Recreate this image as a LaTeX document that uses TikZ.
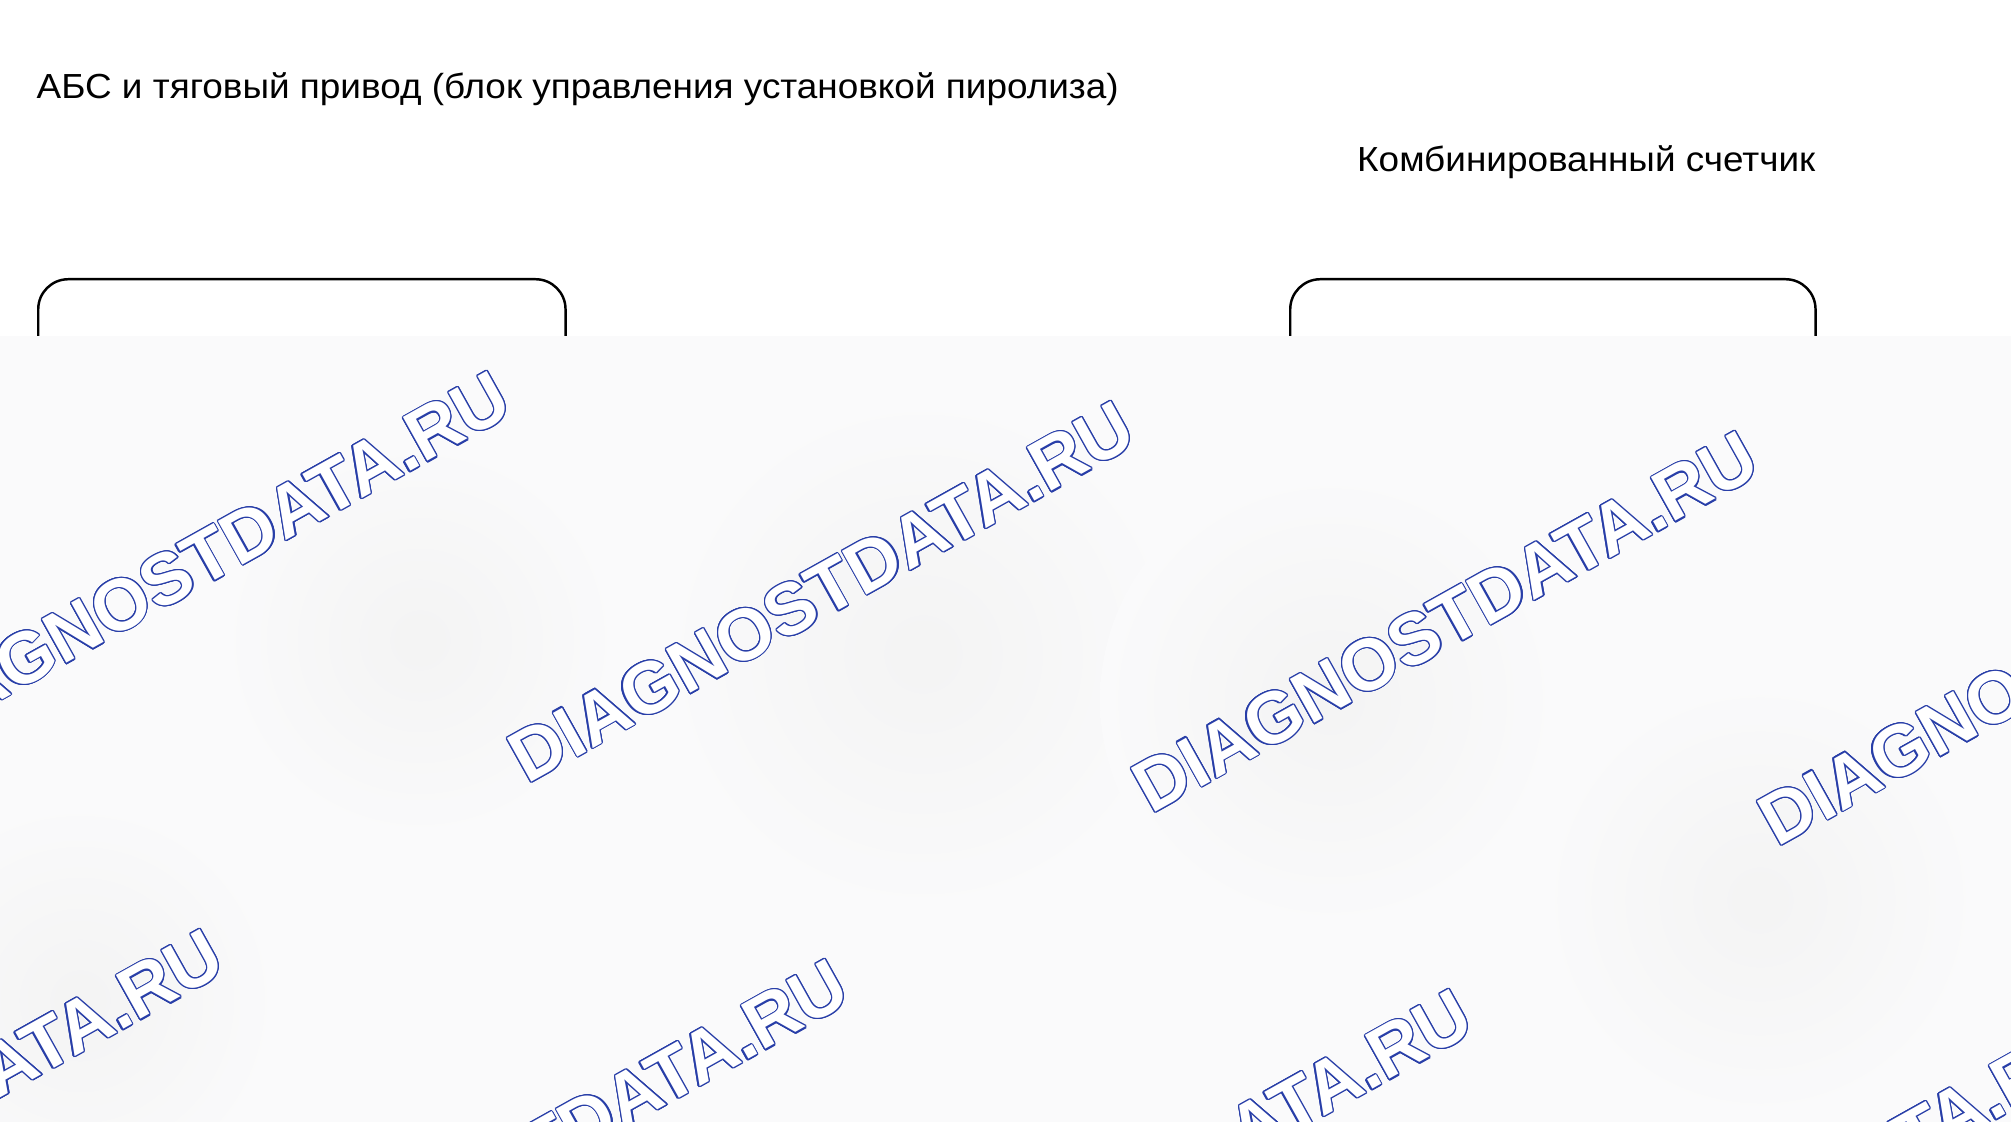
\documentclass[tikz,border=0pt]{standalone}
\usepackage{fontspec}
\setmainfont{Liberation Sans}
\newfontfamily\widefont[FakeStretch=1.06]{Liberation Sans}
\usepackage{contour}
\contourlength{0.35pt}
\usepackage{tikz}
\usetikzlibrary{positioning}
\definecolor{wmblue}{RGB}{40,62,168}
\definecolor{veil}{RGB}{250,250,251}

\begin{document}
\begin{tikzpicture}[x=0.01cm,y=-0.01cm,
label/.style={inner sep=0,font=\widefont\fontsize{9.9}{12}\selectfont},
unit/.style={draw,line width=0.7pt,rounded corners=0.3cm,minimum width=5.27cm,minimum height=7cm,anchor=north west},
wmark/.style={inner sep=0,anchor=base west,rotate=29.2,text=white,font=\fontsize{20.7}{24}\bfseries}]
\useasboundingbox (0,0) rectangle (2011,1122);
\node[label,anchor=base west] (T) at (36,99) {АБС и тяговый привод (блок управления установкой пиролиза)};
\node[label,anchor=base east] (K) at (1816,172) {Комбинированный счетчик};
\node[unit] (U1) at (37,278) {};
\node[unit,minimum width=5.25cm] (U2) at (1289,278) {};
% overlay
\fill[veil] (0,336) rectangle (2011,1122);
\begin{scope}
\clip (0,336) rectangle (2011,1122);
\foreach \x/\y/\r in {923/654/260,420/640/200,1330/700/230,1760/900/220,80/1000/200}
  \shade[inner color=gray!9,outer color=veil] (\x,\y) circle (\r);
\foreach \x/\y [count=\i] in {-97/755,527/785,1151/815,1777/848,-384/1313,241/1343,865/1373,1489/1403}
  \node[wmark] (wm\i) at (\x,\y) {\contour{wmblue}{DIAGNOSTDATA.RU}};
\end{scope}
\end{tikzpicture}
\end{document}
